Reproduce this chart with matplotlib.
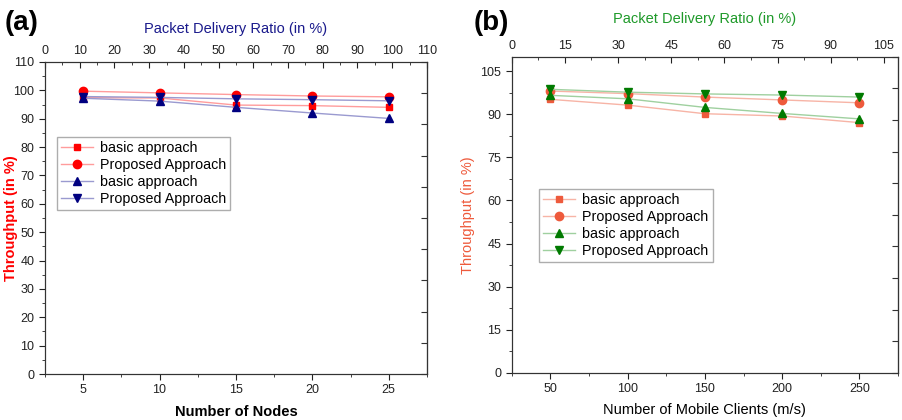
import numpy as np
import matplotlib.pyplot as plt
from matplotlib.ticker import MultipleLocator

plt.rcParams['font.family'] = ['Liberation Sans', 'DejaVu Sans']

# panel (a): number of nodes
nodes = [5, 10, 15, 20, 25]
a_basic_red = [97.4, 97.3, 94.8, 94.6, 94.0]
a_prop_red = [99.7, 99.1, 98.5, 98.0, 97.7]
a_basic_blue = [97.2, 96.2, 94.0, 92.0, 90.1]
a_prop_blue = [97.8, 97.5, 97.0, 96.7, 96.3]

# panel (b): number of mobile clients
clients = [50, 100, 150, 200, 250]
b_basic_red = [95.2, 93.2, 90.2, 89.4, 87.1]
b_prop_red = [98.1, 97.2, 96.0, 95.0, 94.0]
b_basic_green = [96.6, 95.4, 92.4, 90.3, 88.4]
b_prop_green = [98.7, 97.7, 97.1, 96.7, 96.0]

labels = ['basic approach', 'Proposed Approach', 'basic approach', 'Proposed Approach']

fig = plt.figure(figsize=(9.03, 4.2), dpi=100)
axa = fig.add_axes([0.0498, 0.1095, 0.423, 0.743])
axb = fig.add_axes([0.5667, 0.1126, 0.4278, 0.752])


def style(ax, ymaj, ymin, xmaj, xmin, topmaj, topmin, toplim, title, tcol, tpad):
    ax.yaxis.set_major_locator(MultipleLocator(ymaj))
    ax.yaxis.set_minor_locator(MultipleLocator(ymin))
    ax.xaxis.set_major_locator(MultipleLocator(xmaj))
    ax.xaxis.set_minor_locator(MultipleLocator(xmin))
    ax.tick_params(which='both', direction='out', labelsize=9, colors='#222222',
                   top=False, right=False)
    ax.tick_params(which='major', length=4)
    ax.tick_params(which='minor', length=2.5)
    for s in ax.spines.values():
        s.set_color('#333333')
    top = ax.twiny()
    top.set_xlim(*toplim)
    top.xaxis.set_major_locator(MultipleLocator(topmaj))
    top.xaxis.set_minor_locator(MultipleLocator(topmin))
    top.tick_params(which='both', direction='in', labelsize=9, colors='#222222')
    top.tick_params(which='major', length=4)
    top.tick_params(which='minor', length=2.5)
    top.set_xlabel(title, color=tcol, fontsize=10.5, labelpad=tpad)
    for s in top.spines.values():
        s.set_color('#333333')
    ylo, yhi = ax.get_ylim()
    f = 100.0 / (yhi - ylo)
    right = ax.secondary_yaxis('right', functions=(lambda y: y * f, lambda y: y / f))
    right.set_yticks(np.arange(0, 101, 10))
    right.tick_params(direction='in', length=4, labelright=False, colors='#333333')
    right.spines['right'].set_color('#333333')
    return top


# ---- panel (a)
red, redl = '#ff0000', '#ff9c9c'
navy, navyl = '#000080', '#9a9ad0'
axa.plot(nodes, a_basic_red, color=redl, lw=1, marker='s', ms=5, mfc=red, mec=red, label=labels[0])
axa.plot(nodes, a_prop_red, color=redl, lw=1, marker='o', ms=6, mfc=red, mec=red, label=labels[1])
axa.plot(nodes, a_basic_blue, color=navyl, lw=1, marker='^', ms=6, mfc=navy, mec=navy, label=labels[2])
axa.plot(nodes, a_prop_blue, color=navyl, lw=1, marker='v', ms=6, mfc=navy, mec=navy, label=labels[3])
axa.set_xlim(2.5, 27.5)
axa.set_ylim(0, 110)
style(axa, 10, 5, 5, 2.5, 10, 5, (0, 110), 'Packet Delivery Ratio (in %)', '#1a1a8c', 9)
axa.set_xlabel('Number of Nodes', fontsize=10.5, fontweight='bold', labelpad=6)
fig.text(0.012, 0.481, 'Throughput (in %)', fontsize=10.5, fontweight='bold', color='#ff0000',
         rotation=90, ha='center', va='center')
axa.legend(loc='upper left', bbox_to_anchor=(0.031, 0.76), fontsize=10.3, frameon=True,
           fancybox=False, edgecolor='#999999', handlelength=2.2, labelspacing=0.2,
           borderpad=0.3, handletextpad=0.5, borderaxespad=0)
fig.text(0.005, 0.945, '(a)', fontsize=20, fontweight='bold', va='center', ha='left')

# ---- panel (b)
orange, orangel = '#ee5a3c', '#f7b4a6'
green, greenl = '#007a00', '#9fd09f'
axb.plot(clients, b_basic_red, color=orangel, lw=1, marker='s', ms=5, mfc=orange, mec=orange, label=labels[0])
axb.plot(clients, b_prop_red, color=orangel, lw=1, marker='o', ms=6, mfc=orange, mec=orange, label=labels[1])
axb.plot(clients, b_basic_green, color=greenl, lw=1, marker='^', ms=6, mfc=green, mec=green, label=labels[2])
axb.plot(clients, b_prop_green, color=greenl, lw=1, marker='v', ms=6, mfc=green, mec=green, label=labels[3])
axb.set_xlim(25, 275)
axb.set_ylim(0, 110)
style(axb, 15, 7.5, 50, 25, 15, 7.5, (0, 109), 'Packet Delivery Ratio (in %)', '#1f9a2a', 12)
axb.set_xlabel('Number of Mobile Clients (m/s)', fontsize=10.5, labelpad=6)
axb.set_ylabel('Throughput (in %)', fontsize=10.5, color='#ee5a3c', labelpad=4)
axb.legend(loc='upper left', bbox_to_anchor=(0.071, 0.581), fontsize=10.3, frameon=True,
           fancybox=False, edgecolor='#999999', handlelength=2.2, labelspacing=0.2,
           borderpad=0.3, handletextpad=0.5, borderaxespad=0)
fig.text(0.524, 0.945, '(b)', fontsize=20, fontweight='bold', va='center', ha='left')

fig.savefig('out.png', dpi=100)
